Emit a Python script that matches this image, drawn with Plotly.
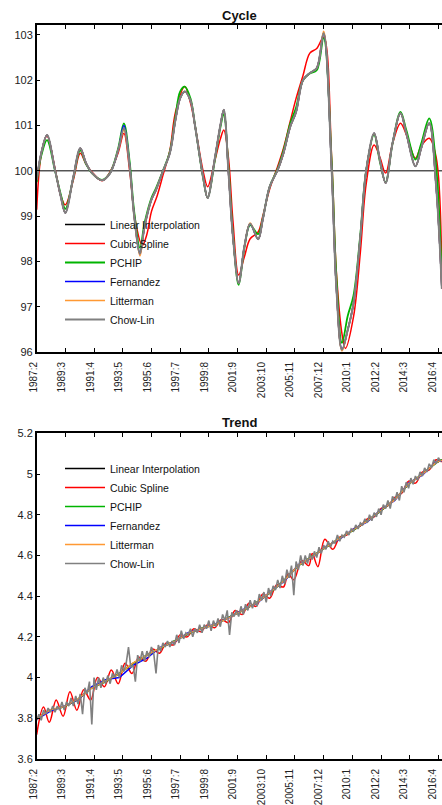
import pandas as pd
import plotly.graph_objects as go

# ---------------- names, colours, ticks ----------------
SERIES_NAMES = ["Linear Interpolation", "Cubic Spline", "PCHIP", "Fernandez", "Litterman", "Chow-Lin"]
SERIES_COLORS = ["#000000", "#ff0000", "#00b400", "#0000ff", "#ff9933", "#808080"]

tick_dates = ["1987-02-01", "1989-03-01", "1991-04-01", "1993-05-01", "1995-06-01",
              "1997-07-01", "1999-08-01", "2001-09-01", "2003-10-01", "2005-11-01",
              "2007-12-01", "2010-01-01", "2012-02-01", "2014-03-01", "2016-04-01"]
tick_labels = ["1987:2", "1989:3", "1991:4", "1993:5", "1995:6", "1997:7", "1999:8",
               "2001:9", "2003:10", "2005:11", "2007:12", "2010:1", "2012:2", "2014:3", "2016:4"]

# ---------------- Cycle ----------------
cycle_dates = ["1987-02", "1987-06", "1987-11", "1988-06", "1988-11", "1989-03", "1989-10",
               "1990-04", "1990-09", "1991-02", "1991-11", "1992-06", "1993-01", "1993-06",
               "1993-11", "1994-03", "1994-08", "1994-12", "1995-06", "1995-10", "1996-04",
               "1996-10", "1997-03", "1997-07", "1997-11", "1998-04", "1998-08", "1999-03",
               "1999-07", "2000-01", "2000-06", "2000-09", "2001-01", "2001-05", "2001-10",
               "2002-03", "2002-08", "2003-03", "2003-07", "2004-01", "2004-08", "2005-01",
               "2005-07", "2005-12", "2006-06", "2006-12", "2007-06", "2007-12", "2008-07",
               "2008-11", "2009-04", "2009-09", "2010-02", "2010-08", "2011-01", "2011-08",
               "2012-01", "2012-06", "2012-12", "2013-07", "2013-12", "2014-08", "2015-01",
               "2015-08", "2016-02", "2016-07"]

cycle_chowlin = [99.80, 100.39, 100.79, 100.02, 99.43, 99.07, 99.87, 100.50, 100.17, 99.96,
                 99.79, 99.95, 100.46, 100.94, 100.10, 99.00, 98.18, 98.77, 99.36, 99.58,
                 99.99, 100.39, 101.13, 101.60, 101.75, 101.55, 100.99, 99.87, 99.40, 100.24,
                 101.00, 101.35, 100.00, 98.55, 97.52, 98.33, 98.83, 98.49, 98.92, 99.65,
                 100.02, 100.39, 100.98, 101.30, 102.00, 102.16, 102.27, 103.04, 100.02, 97.45,
                 96.05, 96.49, 97.08, 98.55, 100.00, 100.83, 100.24, 99.73, 100.61, 101.27,
                 100.83, 100.10, 100.50, 101.05, 99.65, 97.40]
cycle_linear = [99.80, 100.39, 100.79, 100.02, 99.43, 99.07, 99.87, 100.50, 100.17, 99.96,
                99.79, 99.95, 100.46, 100.94, 100.10, 99.00, 98.18, 98.77, 99.36, 99.58,
                99.99, 100.39, 101.13, 101.60, 101.75, 101.55, 100.99, 99.87, 99.40, 100.24,
                101.00, 101.35, 100.00, 98.55, 97.52, 98.33, 98.83, 98.49, 98.92, 99.65,
                100.02, 100.39, 100.98, 101.30, 102.00, 102.16, 102.27, 103.04, 100.02, 97.45,
                96.05, 96.49, 97.08, 98.55, 100.00, 100.83, 100.24, 99.73, 100.61, 101.27,
                100.83, 100.10, 100.50, 101.05, 99.65, 97.40]
cycle_fernandez = [99.80, 100.39, 100.79, 100.02, 99.43, 99.07, 99.87, 100.50, 100.17, 99.96,
                   99.79, 99.95, 100.46, 101.00, 100.12, 99.00, 98.15, 98.77, 99.36, 99.58,
                   99.99, 100.39, 101.13, 101.60, 101.75, 101.55, 100.99, 99.87, 99.40, 100.24,
                   101.00, 101.35, 100.00, 98.55, 97.52, 98.33, 98.83, 98.49, 98.92, 99.65,
                   100.02, 100.39, 100.98, 101.30, 102.00, 102.16, 102.27, 103.04, 100.02, 97.45,
                   96.05, 96.49, 97.08, 98.55, 100.00, 100.83, 100.24, 99.73, 100.61, 101.27,
                   100.83, 100.10, 100.50, 101.05, 99.65, 97.40]
cycle_litterman = [99.80, 100.39, 100.79, 100.02, 99.43, 99.07, 99.87, 100.50, 100.17, 99.96,
                   99.79, 99.95, 100.46, 100.90, 100.10, 98.98, 98.12, 98.77, 99.36, 99.58,
                   99.99, 100.39, 101.13, 101.60, 101.75, 101.55, 100.99, 99.87, 99.40, 100.24,
                   101.00, 101.35, 100.00, 98.55, 97.52, 98.33, 98.85, 98.49, 98.92, 99.65,
                   100.02, 100.39, 100.98, 101.30, 102.00, 102.16, 102.27, 103.08, 100.02, 97.45,
                   96.02, 96.49, 97.08, 98.55, 100.00, 100.83, 100.24, 99.73, 100.61, 101.27,
                   100.83, 100.10, 100.50, 101.05, 99.65, 97.40]
cycle_pchip = [99.75, 100.33, 100.68, 100.00, 99.48, 99.16, 99.85, 100.45, 100.15, 99.95,
               99.80, 99.96, 100.50, 101.05, 100.20, 99.10, 98.30, 98.85, 99.40, 99.62,
               100.00, 100.42, 101.20, 101.75, 101.86, 101.60, 101.00, 99.85, 99.40, 100.20,
               100.95, 101.25, 100.10, 98.60, 97.48, 98.30, 98.80, 98.60, 98.95, 99.65,
               100.05, 100.45, 101.05, 101.40, 102.00, 102.15, 102.22, 102.93, 100.20, 97.70,
               96.20, 96.80, 97.25, 98.60, 100.00, 100.80, 100.20, 99.75, 100.60, 101.30,
               100.90, 100.25, 100.60, 101.16, 100.10, 97.60]

cycle_spline_dates = ["1987-02", "1987-06", "1987-11", "1988-06", "1988-11", "1989-03", "1989-10",
                      "1990-04", "1990-09", "1991-02", "1991-11", "1992-06", "1993-01", "1993-06",
                      "1993-11", "1994-04", "1994-10", "1995-02", "1995-06", "1995-11", "1996-04",
                      "1996-10", "1997-03", "1997-11", "1998-04", "1998-08", "1999-03", "1999-07",
                      "2000-01", "2000-06", "2000-09", "2001-01", "2001-05", "2001-10", "2002-03",
                      "2002-08", "2003-03", "2003-07", "2004-01", "2004-08", "2005-01", "2005-07",
                      "2005-12", "2006-06", "2006-12", "2007-06", "2007-12", "2008-07", "2008-11",
                      "2009-04", "2009-07", "2010-02", "2010-08", "2011-01", "2011-08", "2012-01",
                      "2012-06", "2012-12", "2013-07", "2013-12", "2014-08", "2015-01", "2015-08",
                      "2016-02", "2016-07"]
cycle_spline = [99.14, 100.35, 100.77, 100.05, 99.45, 99.25, 99.80, 100.39, 100.15, 99.98,
                99.78, 99.98, 100.40, 100.83, 100.00, 98.90, 98.35, 98.60, 99.10, 99.45,
                99.90, 100.45, 101.30, 101.86, 101.50, 101.00, 100.00, 99.65, 100.20, 100.70,
                100.90, 100.30, 98.90, 97.70, 98.10, 98.50, 98.65, 99.00, 99.60, 100.10,
                100.50, 101.10, 101.60, 102.10, 102.60, 102.70, 102.95, 100.30, 97.80, 96.40,
                96.08, 96.78, 98.20, 99.70, 100.57, 100.30, 99.95, 100.60, 101.05, 100.80,
                100.28, 100.55, 100.72, 100.30, 97.60]

# ---------------- Trend ----------------
trend_year_dates = [f"{y}-02" for y in range(1987, 2017)] + ["2016-07"]
trend_pchip = [3.800, 3.840, 3.856, 3.893, 3.950, 3.980, 4.020, 4.070, 4.110, 4.145,
               4.180, 4.215, 4.243, 4.260, 4.298, 4.330, 4.370, 4.420, 4.480, 4.550,
               4.595, 4.640, 4.685, 4.725, 4.770, 4.820, 4.875, 4.950, 5.000, 5.055, 5.070]
trend_linear = [3.800, 3.840, 3.856, 3.893, 3.950, 3.980, 4.020, 4.070, 4.110, 4.145,
                4.180, 4.215, 4.243, 4.260, 4.298, 4.330, 4.370, 4.420, 4.480, 4.550,
                4.595, 4.640, 4.685, 4.725, 4.770, 4.820, 4.875, 4.950, 5.000, 5.055, 5.070]
trend_fernandez = [3.795, 3.835, 3.860, 3.890, 3.955, 3.990, 4.000, 4.060, 4.095, 4.150,
                   4.175, 4.220, 4.240, 4.265, 4.295, 4.335, 4.365, 4.425, 4.475, 4.555,
                   4.590, 4.645, 4.680, 4.730, 4.765, 4.825, 4.870, 4.955, 4.995, 5.060, 5.065]
trend_litterman = [3.800, 3.842, 3.858, 3.895, 3.948, 3.982, 4.018, 4.072, 4.108, 4.147,
                   4.178, 4.217, 4.241, 4.262, 4.296, 4.332, 4.368, 4.422, 4.478, 4.552,
                   4.593, 4.642, 4.683, 4.727, 4.768, 4.822, 4.873, 4.952, 4.998, 5.057, 5.068]

trend_spline_dates = ["1987-02", "1987-08", "1988-01", "1988-07", "1989-01", "1989-07", "1990-01",
                      "1990-07", "1991-01", "1991-07", "1992-01", "1992-07", "1993-01", "1993-07",
                      "1994-01", "1994-07", "1995-01", "1995-07", "1996-01", "1996-07", "1997-01",
                      "1997-07", "1998-01", "1998-07", "1999-01", "1999-07", "2000-01", "2000-07",
                      "2001-01", "2001-07", "2002-01", "2002-07", "2003-01", "2003-07", "2004-01",
                      "2004-07", "2005-01", "2005-05", "2005-10", "2006-05", "2006-11", "2007-02",
                      "2007-07", "2008-01", "2008-08", "2009-02", "2009-08", "2010-02", "2010-08",
                      "2011-02", "2011-08", "2012-02", "2012-08", "2013-02", "2013-08", "2014-02",
                      "2014-08", "2015-02", "2015-08", "2016-02", "2016-07"]
trend_spline = [3.720, 3.855, 3.780, 3.890, 3.810, 3.930, 3.840, 3.940, 3.890, 4.000,
                3.955, 4.037, 3.970, 4.070, 4.020, 4.100, 4.080, 4.140, 4.120, 4.170,
                4.160, 4.210, 4.200, 4.240, 4.225, 4.260, 4.245, 4.285, 4.270, 4.330,
                4.310, 4.365, 4.350, 4.410, 4.390, 4.455, 4.445, 4.510, 4.480, 4.575,
                4.550, 4.610, 4.545, 4.680, 4.630, 4.690, 4.700, 4.730, 4.745, 4.780,
                4.790, 4.830, 4.845, 4.885, 4.905, 4.965, 4.955, 5.010, 5.020, 5.070, 5.060]

# Chow-Lin trend, one value every two months from 1987:2
trend_chowlin = [
    3.79, 3.82, 3.79, 3.84, 3.82, 3.85,   # 1987
    3.83, 3.86, 3.83, 3.86, 3.84, 3.88,   # 1988
    3.84, 3.88, 3.86, 3.90, 3.86, 3.91,   # 1989
    3.87, 3.92, 3.82, 3.95, 3.92, 3.98,   # 1990
    3.77, 4.00, 3.94, 4.00, 3.95, 4.00,   # 1991
    3.97, 4.01, 3.97, 4.02, 4.00, 4.04,   # 1992
    4.00, 4.06, 4.03, 4.07, 4.15, 4.05,   # 1993
    4.06, 3.98, 4.11, 4.08, 4.13, 4.08,   # 1994
    4.13, 4.10, 4.15, 4.12, 4.02, 4.16,   # 1995
    4.13, 4.17, 4.15, 4.18, 4.15, 4.18,   # 1996
    4.16, 4.21, 4.17, 4.23, 4.19, 4.22,   # 1997
    4.21, 4.24, 4.20, 4.24, 4.22, 4.26,   # 1998
    4.22, 4.26, 4.24, 4.28, 4.23, 4.28,   # 1999
    4.25, 4.29, 4.25, 4.31, 4.28, 4.33,   # 2000
    4.21, 4.32, 4.30, 4.33, 4.30, 4.35,   # 2001
    4.31, 4.36, 4.33, 4.38, 4.34, 4.38,   # 2002
    4.35, 4.41, 4.38, 4.42, 4.37, 4.44,   # 2003
    4.40, 4.45, 4.43, 4.48, 4.44, 4.50,   # 2004
    4.46, 4.53, 4.49, 4.55, 4.405, 4.57,  # 2005
    4.53, 4.60, 4.55, 4.60, 4.56, 4.61,   # 2006
    4.58, 4.62, 4.59, 4.64, 4.61, 4.65,   # 2007
    4.63, 4.67, 4.64, 4.67, 4.66, 4.70,   # 2008
    4.67, 4.70, 4.69, 4.72, 4.70, 4.73,   # 2009
    4.72, 4.75, 4.73, 4.76, 4.75, 4.78,   # 2010
    4.76, 4.80, 4.77, 4.81, 4.79, 4.83,   # 2011
    4.80, 4.85, 4.83, 4.87, 4.83, 4.89,   # 2012
    4.87, 4.91, 4.87, 4.94, 4.91, 4.96,   # 2013
    4.93, 4.98, 4.95, 4.99, 4.97, 5.01,   # 2014
    4.99, 5.03, 5.01, 5.05, 5.03, 5.07,   # 2015
    5.05, 5.08, 5.06,                     # 2016
]
trend_chowlin_dates = pd.date_range("1987-02-01", periods=len(trend_chowlin), freq="2MS")

# ---------------- figure ----------------
W, H = 442, 805
FONT = "Arial, Liberation Sans, sans-serif"
X_RANGE = ["1987-02-01", "2016-07-05"]
fig = go.Figure()


def add(x, y, i, xa, ya, legend, shape, width):
    fig.add_trace(go.Scatter(
        x=x, y=y, name=SERIES_NAMES[i], mode="lines",
        line=dict(color=SERIES_COLORS[i], width=width, shape=shape, smoothing=1.0),
        xaxis=xa, yaxis=ya, legend=legend, hoverinfo="skip"))


# cycle panel
add(cycle_dates, cycle_linear, 0, "x", "y", "legend", "spline", 1.5)
add(cycle_spline_dates, cycle_spline, 1, "x", "y", "legend", "spline", 1.5)
add(cycle_dates, cycle_pchip, 2, "x", "y", "legend", "spline", 1.8)
add(cycle_dates, cycle_fernandez, 3, "x", "y", "legend", "spline", 1.5)
add(cycle_dates, cycle_litterman, 4, "x", "y", "legend", "spline", 1.5)
add(cycle_dates, cycle_chowlin, 5, "x", "y", "legend", "spline", 2.0)

# trend panel
add(trend_year_dates, trend_linear, 0, "x2", "y2", "legend2", "linear", 1.5)
add(trend_spline_dates, trend_spline, 1, "x2", "y2", "legend2", "spline", 1.5)
add(trend_year_dates, trend_pchip, 2, "x2", "y2", "legend2", "linear", 1.5)
add(trend_year_dates, trend_fernandez, 3, "x2", "y2", "legend2", "linear", 1.5)
add(trend_year_dates, trend_litterman, 4, "x2", "y2", "legend2", "linear", 1.5)
add(trend_chowlin_dates, trend_chowlin, 5, "x2", "y2", "legend2", "linear", 1.6)

# empty carriers for the label-only axes
for xa, ya in (("x3", "y"), ("x4", "y2")):
    fig.add_trace(go.Scatter(x=[], y=[], xaxis=xa, yaxis=ya, showlegend=False,
                             hoverinfo="skip"))

PLOT_LEFT = 36.7
x_dom = [PLOT_LEFT / W, 1.0]
# label axis: its own (non-overlaying) domain, a few px left of the tick marks
lab_dom = [(PLOT_LEFT - 3) / W, (W - 6) / W]
top_dom = [1 - 352 / H, 1 - 25 / H]
bot_dom = [1 - 759 / H, 1 - 433.3 / H]

xticks = dict(type="date", range=X_RANGE, tickmode="array", tickvals=tick_dates,
              showticklabels=False,
              ticks="inside", ticklen=4, tickwidth=1, tickcolor="#000",
              showline=True, linecolor="#000", linewidth=1.5, mirror="ticks",
              showgrid=False, zeroline=False, automargin=False, domain=x_dom)
xlabels = dict(type="date", range=X_RANGE, tickmode="array", tickvals=tick_dates,
               ticktext=tick_labels, tickangle=-90, ticks="", showline=False,
               showgrid=False, zeroline=False, automargin=False,
               ticklabeloverflow="allow", side="bottom",
               tickfont=dict(family=FONT, size=10, color="#222"), domain=lab_dom,
               ticklabelstandoff=7)
ycommon = dict(ticks="inside", ticklen=4, tickwidth=1, tickcolor="#000",
               showline=True, linecolor="#000", linewidth=1.5, mirror=False,
               showgrid=False, zeroline=False, automargin=False,
               tickfont=dict(family=FONT, size=11, color="#222"))

legcommon = dict(xanchor="left", yanchor="top", bgcolor="rgba(0,0,0,0)",
                 borderwidth=0, font=dict(family=FONT, size=10.5, color="#111"),
                 itemwidth=40, traceorder="normal", tracegroupgap=0)

fig.update_layout(
    width=W, height=H, margin=dict(l=0, r=0, t=0, b=0),
    template="none", paper_bgcolor="white", plot_bgcolor="rgba(0,0,0,0)",
    showlegend=True,
    xaxis=dict(xticks, anchor="y"),
    yaxis=dict(ycommon, domain=top_dom, range=[96, 103.22], dtick=1, tick0=96, anchor="x"),
    xaxis2=dict(xticks, anchor="y2"),
    yaxis2=dict(ycommon, domain=bot_dom, range=[3.6, 5.2], dtick=0.2, tick0=3.6, anchor="x2"),
    xaxis3=dict(xlabels, anchor="y"),
    xaxis4=dict(xlabels, anchor="y2"),
    legend=dict(legcommon, x=60 / W, y=1 - 210 / H),
    legend2=dict(legcommon, x=60 / W, y=1 - 454 / H),
    shapes=[dict(type="line", xref="x domain", x0=0, x1=1, yref="y", y0=100, y1=100,
                 line=dict(color="#000", width=1), layer="below")],
    annotations=[
        dict(text="<b>Cycle</b>", xref="paper", yref="paper", x=(PLOT_LEFT + W) / 2 / W,
             y=1 - 15 / H, xanchor="center", yanchor="middle", showarrow=False,
             font=dict(family=FONT, size=13, color="#111")),
        dict(text="<b>Trend</b>", xref="paper", yref="paper", x=(PLOT_LEFT + W) / 2 / W,
             y=1 - 423 / H, xanchor="center", yanchor="middle", showarrow=False,
             font=dict(family=FONT, size=13, color="#111")),
    ],
)

fig.write_html("out.html")
